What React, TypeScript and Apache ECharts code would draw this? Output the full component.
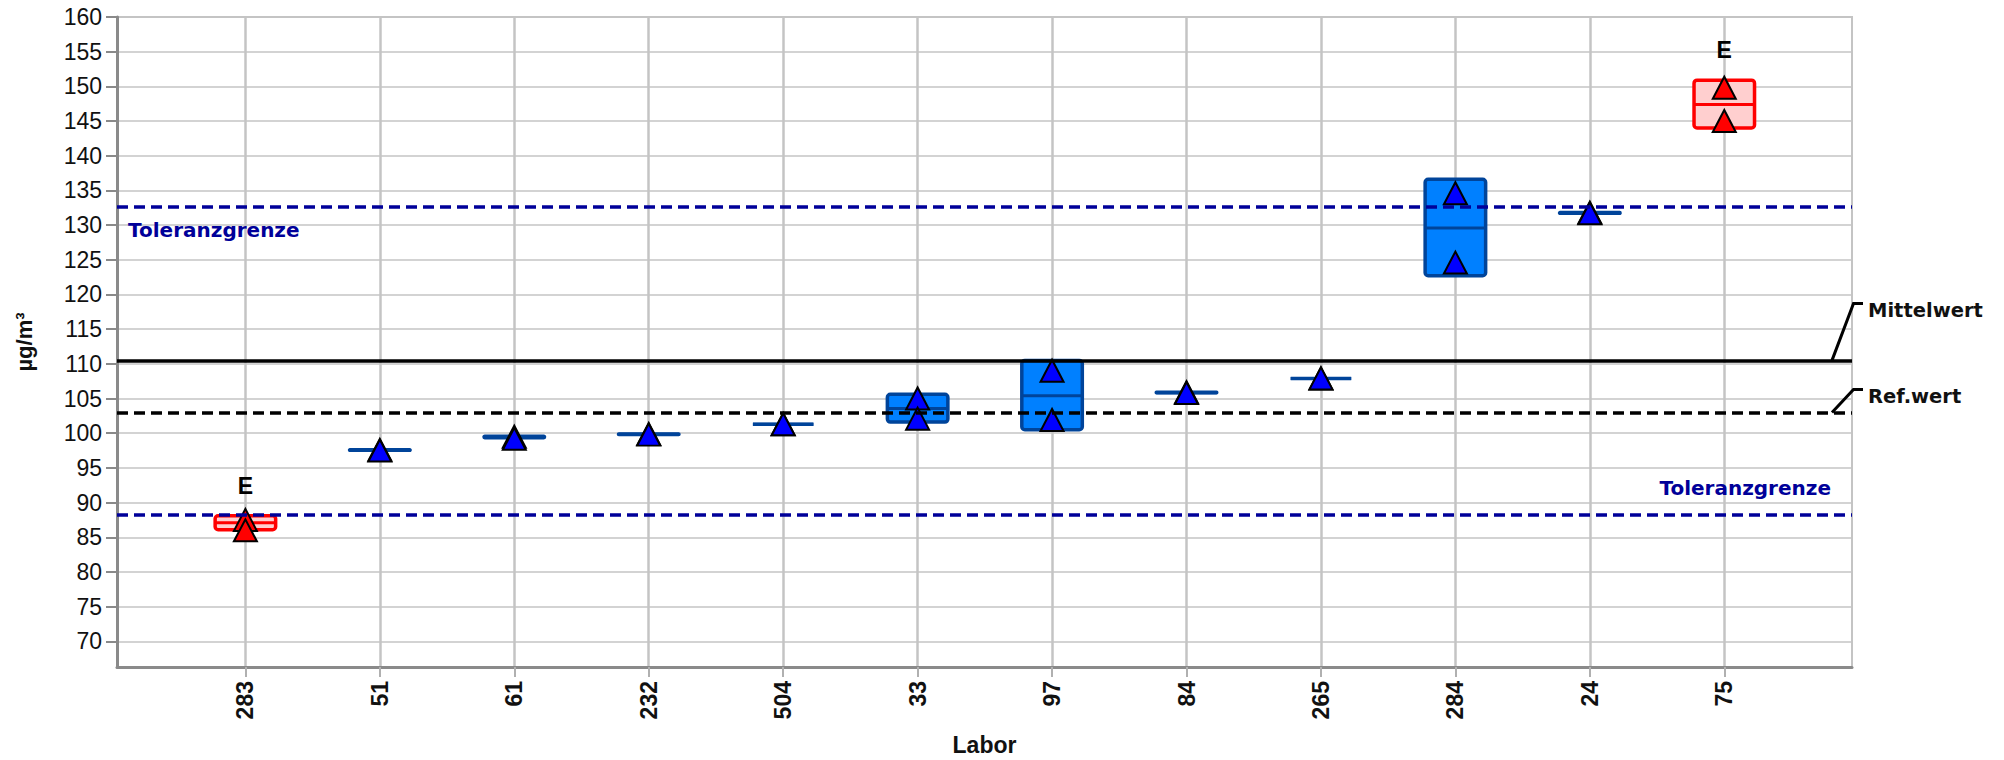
import React, { useEffect, useRef } from "react";
import * as echarts from "echarts";

// ---------- data ----------
const labs = ["283", "51", "61", "232", "504", "33", "97", "84", "265", "284", "24", "75"];
const measurement1 = [87.5, 97.6, 99.5, 99.9, 101.3, 105.0, 109.0, 105.9, 107.9, 134.6, 131.8, 149.8];
const measurement2 = [86.0, 97.5, 99.2, 99.8, 101.3, 102.1, 101.9, 105.8, 107.9, 124.6, 131.7, 145.0];
const boxLow = [86.1, 97.55, 99.35, 99.8, 101.3, 101.6, 100.5, 105.85, 107.9, 122.7, 131.7, 144.0];
const boxMid = [87.1, 97.55, 99.45, 99.85, 101.3, 103.55, 105.4, 105.85, 107.9, 129.6, 131.75, 147.4];
const boxHigh = [88.1, 97.6, 99.55, 99.9, 101.3, 105.6, 110.5, 105.9, 107.9, 136.6, 131.8, 150.9];
const outlier = [true, false, false, false, false, false, false, false, false, false, false, true];

const MEAN = 110.5;
const REF = 103.0;
const TOL_UPPER = 132.6;
const TOL_LOWER = 88.3;

const yTicks = [70, 75, 80, 85, 90, 95, 100, 105, 110, 115, 120, 125, 130, 135, 140, 145, 150, 155, 160];
const Y_MIN = 66.3;
const Y_MAX = 160;
const X_MIN = -0.955;
const X_MAX = 11.95;

const labelFont = '"DejaVu Sans", sans-serif';
const tickFont = '"Liberation Sans", Arial, sans-serif';

export default function App() {
  const ref = useRef<HTMLDivElement>(null);

  useEffect(() => {
    if (!ref.current) return;
    const chart = echarts.init(ref.current, null, { renderer: "svg" });
    const xPositions = labs.map((_, i) => i);

    const boxData = labs.map((_, i) => [i, boxLow[i], boxMid[i], boxHigh[i], outlier[i] ? 1 : 0]);
    const tri = (vals: number[]) =>
      vals.map((v, i) => ({
        value: [i, v],
        itemStyle: { color: outlier[i] ? "#ff0000" : "#0000ff" },
      }));

    const option: any = {
      animation: false,
      backgroundColor: "#ffffff",
      grid: {
        left: 117,
        top: 17,
        width: 1735,
        height: 650,
        show: true,
        borderColor: "#c4c4c4",
        borderWidth: 2,
        backgroundColor: "transparent",
        containLabel: false,
        outerBoundsMode: "none",
      },
      xAxis: {
        type: "value",
        min: X_MIN,
        max: X_MAX,
        name: "Labor",
        nameLocation: "middle",
        nameGap: 66,
        nameTextStyle: { fontFamily: tickFont, fontWeight: "bold", fontSize: 23, color: "#111" },
        axisLine: { show: true, onZero: false, lineStyle: { color: "#8a8a8a", width: 3 } },
        axisTick: { show: true, customValues: xPositions, length: 10, lineStyle: { color: "#b0b0b0", width: 2 } },
        axisLabel: {
          customValues: xPositions,
          rotate: 90,
          margin: 14,
          fontFamily: tickFont,
          fontWeight: "bold",
          fontSize: 23,
          color: "#111",
          formatter: (v: number) => labs[Math.round(v)] ?? "",
        },
        splitLine: { show: true, lineStyle: { color: "#c4c4c4", width: 2.5 } },
      },
      yAxis: {
        type: "value",
        min: Y_MIN,
        max: Y_MAX,
        name: "µg/m³",
        nameLocation: "middle",
        nameRotate: 90,
        nameGap: 82,
        nameTextStyle: { fontFamily: tickFont, fontWeight: "bold", fontSize: 22, color: "#111" },
        axisLine: { show: true, onZero: false, lineStyle: { color: "#8a8a8a", width: 3 } },
        axisTick: { show: true, customValues: yTicks, length: 11, lineStyle: { color: "#8a8a8a", width: 2 } },
        axisLabel: {
          customValues: yTicks,
          margin: 15,
          fontFamily: tickFont,
          fontSize: 23,
          color: "#111",
        },
        splitLine: { show: true, lineStyle: { color: "#c4c4c4", width: 1.5 } },
      },
      series: [
        {
          type: "line",
          data: [],
          z: 1,
          silent: true,
          markLine: {
            silent: true,
            symbol: "none",
            label: { show: false },
            data: [
              { yAxis: TOL_UPPER, lineStyle: { color: "#000099", width: 3.5, type: [11, 6] } },
              { yAxis: TOL_LOWER, lineStyle: { color: "#000099", width: 3.5, type: [11, 6] } },
              { yAxis: REF, lineStyle: { color: "#000000", width: 3.5, type: [11, 6] } },
              { yAxis: MEAN, lineStyle: { color: "#000000", width: 3.5, type: "solid" } },
            ],
          },
        },
        {
          type: "custom",
          z: 2,
          silent: true,
          data: boxData,
          encode: { x: 0, y: [1, 2, 3] },
          renderItem: (_params: any, api: any) => {
            const i = api.value(0);
            const lo = api.coord([i, api.value(1)]);
            const mid = api.coord([i, api.value(2)]);
            const hi = api.coord([i, api.value(3)]);
            const isE = api.value(4) === 1;
            const w = api.size([0.45, 0])[0];
            const stroke = isE ? "#ff0000" : "#00449a";
            const fill = isE ? "#ffcfcf" : "#0080ff";
            const children: any[] = [
              {
                type: "rect",
                shape: { x: lo[0] - w / 2, y: hi[1], width: w, height: lo[1] - hi[1], r: 3 },
                style: { fill, stroke, lineWidth: 3.5 },
              },
              {
                type: "line",
                shape: { x1: lo[0] - w / 2, y1: mid[1], x2: lo[0] + w / 2, y2: mid[1] },
                style: { stroke, lineWidth: 3 },
              },
            ];
            if (isE) {
              children.push({
                type: "text",
                x: lo[0],
                y: hi[1] - 30,
                style: {
                  text: "E",
                  fontFamily: tickFont,
                  fontWeight: "bold",
                  fontSize: 23,
                  fill: "#000",
                  align: "center",
                  verticalAlign: "middle",
                },
              });
            }
            return { type: "group", children };
          },
        },
        {
          type: "scatter",
          z: 3,
          silent: true,
          symbol: "triangle",
          symbolSize: [23, 22],
          itemStyle: { borderColor: "#000", borderWidth: 2, opacity: 1 },
          data: tri(measurement1),
        },
        {
          type: "scatter",
          z: 4,
          silent: true,
          symbol: "triangle",
          symbolSize: [23, 22],
          itemStyle: { borderColor: "#000", borderWidth: 2, opacity: 1 },
          data: tri(measurement2),
        },
      ],
    };

    chart.setOption(option);

    // annotations placed from the axes' own scales
    const px = (x: number, y: number) => chart.convertToPixel({ gridIndex: 0 }, [x, y]) as number[];
    const left = px(X_MIN, MEAN)[0];
    const right = px(X_MAX, MEAN)[0];
    const yMean = px(0, MEAN)[1];
    const yRef = px(0, REF)[1];
    const yUp = px(0, TOL_UPPER)[1];
    const yLow = px(0, TOL_LOWER)[1];

    const textStyle = (text: string, color: string, align: string, size: number) => ({
      text,
      fill: color,
      fontFamily: labelFont,
      fontWeight: "bold",
      fontSize: size,
      align,
      verticalAlign: "middle",
    });

    const leader = (yLine: number, rise: number, label: string) => [
      {
        type: "polyline",
        shape: {
          points: [
            [right - 20, yLine],
            [right + 1.5, yLine - rise],
            [right + 11, yLine - rise],
          ],
        },
        style: { stroke: "#000", lineWidth: 3, fill: "none" },
        z: 10,
      },
      {
        type: "text",
        x: right + 16,
        y: yLine - rise + 7,
        style: textStyle(label, "#111", "left", 19.5),
        z: 10,
      },
    ];

    chart.setOption({
      graphic: [
        { type: "text", x: left + 11, y: yUp + 23, style: textStyle("Toleranzgrenze", "#000099", "left", 20), z: 10 },
        { type: "text", x: right - 21, y: yLow - 26, style: textStyle("Toleranzgrenze", "#000099", "right", 20), z: 10 },
        ...leader(yMean, 57, "Mittelwert"),
        ...leader(yRef, 23, "Ref.wert"),
      ],
    });

    return () => chart.dispose();
  }, []);

  return (
    <div
      ref={ref}
      style={{ position: "fixed", left: 0, top: 0, width: 2004, height: 760, background: "#fff" }}
    />
  );
}
